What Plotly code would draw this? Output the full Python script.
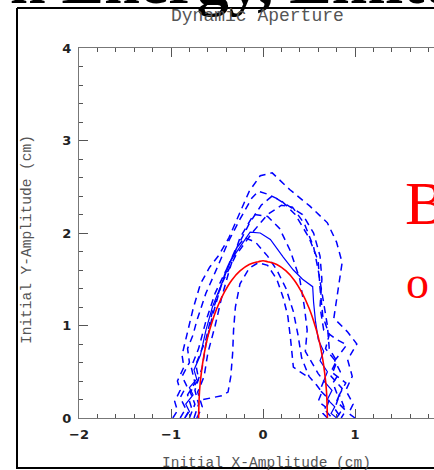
import plotly.graph_objects as go

# ---- data ----
ellipse_x = [-0.70, -0.69, -0.67, -0.64, -0.60, -0.55, -0.50, -0.42, -0.34, -0.25, -0.15, -0.05, 0.00,
             0.05, 0.15, 0.25, 0.34, 0.42, 0.50, 0.55, 0.60, 0.64, 0.67, 0.69, 0.70]
ellipse_y = [0.00, 0.29, 0.49, 0.69, 0.88, 1.05, 1.19, 1.36, 1.49, 1.59, 1.66, 1.69, 1.70,
             1.69, 1.66, 1.59, 1.49, 1.36, 1.19, 1.05, 0.88, 0.69, 0.49, 0.29, 0.00]

seed_a_x = [-0.98, -0.93, -0.96, -0.90, -0.93, -0.86, -0.88, -0.82, -0.76, -0.68, -0.58, -0.48, -0.37, -0.26,
            -0.15, -0.03, 0.10, 0.29, 0.51, 0.70, 0.80, 0.86, 0.82, 0.77, 0.92, 1.02, 0.92, 0.97, 0.90, 0.98,
            0.93, 1.00]
seed_a_y = [0.00, 0.08, 0.18, 0.30, 0.40, 0.55, 0.68, 0.92, 1.18, 1.45, 1.63, 1.76, 1.95, 2.20,
            2.45, 2.62, 2.65, 2.47, 2.29, 2.11, 1.90, 1.68, 1.40, 1.08, 0.93, 0.80, 0.63, 0.45, 0.30, 0.15,
            0.05, 0.00]

seed_b_x = [-0.90, -0.84, -0.90, -0.83, -0.88, -0.80, -0.82, -0.76, -0.72, -0.62, -0.50, -0.38, -0.25, -0.12,
            -0.05, 0.05, 0.20, 0.35, 0.50, 0.60, 0.62, 0.65, 0.72, 0.68, 0.80, 0.74, 0.86, 0.80, 0.90, 0.85]
seed_b_y = [0.00, 0.10, 0.22, 0.35, 0.45, 0.60, 0.75, 0.90, 1.05, 1.35, 1.62, 1.90, 2.15, 2.38,
            2.45, 2.42, 2.35, 2.20, 1.95, 1.70, 1.40, 1.10, 0.90, 0.75, 0.60, 0.45, 0.32, 0.18, 0.08, 0.00]

seed_c_x = [-0.85, -0.78, -0.82, -0.74, -0.78, -0.70, -0.62, -0.52, -0.40, -0.28, -0.15, -0.02, 0.10, 0.26,
            0.43, 0.55, 0.62, 0.64, 0.62, 0.66, 0.80, 0.91, 0.78, 0.84, 0.76, 0.82, 0.78, 0.85]
seed_c_y = [0.00, 0.12, 0.25, 0.38, 0.55, 0.75, 1.05, 1.35, 1.60, 1.85, 2.10, 2.30, 2.40, 2.30,
            2.20, 2.00, 1.75, 1.50, 1.20, 0.95, 0.85, 0.79, 0.62, 0.50, 0.38, 0.22, 0.10, 0.00]

seed_d_x = [-0.80, -0.74, -0.79, -0.70, -0.73, -0.62, -0.55, -0.45, -0.30, -0.12, 0.05, 0.20, 0.32, 0.45,
            0.55, 0.60, 0.65, 0.70, 0.72, 0.80, 0.74, 0.90, 0.83, 0.88, 0.80]
seed_d_y = [0.00, 0.15, 0.28, 0.42, 0.58, 0.85, 1.15, 1.45, 1.75, 2.00, 2.20, 2.30, 2.28, 2.10,
            1.85, 1.60, 1.30, 1.00, 0.75, 0.62, 0.50, 0.38, 0.25, 0.12, 0.00]

seed_e_x = [-0.72, -0.66, -0.71, -0.64, -0.60, -0.52, -0.45, -0.36, -0.25, -0.10, 0.05, 0.18, 0.30, 0.40,
            0.45, 0.48, 0.46, 0.55, 0.60, 0.66, 0.62, 0.72, 0.68, 0.75]
seed_e_y = [0.00, 0.12, 0.28, 0.45, 0.70, 1.00, 1.30, 1.62, 1.95, 2.20, 2.18, 2.05, 1.80, 1.50,
            1.20, 0.95, 0.72, 0.57, 0.48, 0.40, 0.30, 0.20, 0.08, 0.00]

seed_f_x = [-0.85, -0.80, -0.84, -0.76, -0.80, -0.72, -0.75, -0.68, -0.62, -0.55, -0.45, -0.35, -0.25, -0.14,
            -0.03, 0.08, 0.22, 0.33, 0.43, 0.54, 0.55, 0.57, 0.60, 0.66, 0.62, 0.70, 0.66, 0.75, 0.70, 0.78,
            0.74, 0.80]
seed_f_y = [0.00, 0.07, 0.15, 0.25, 0.33, 0.42, 0.52, 0.68, 0.95, 1.20, 1.45, 1.70, 1.85, 2.01,
            2.00, 1.93, 1.74, 1.60, 1.50, 1.42, 1.25, 1.05, 0.85, 0.72, 0.62, 0.50, 0.40, 0.30, 0.20, 0.12,
            0.05, 0.00]

seed_g_x = [-0.75, -0.70, -0.74, -0.66, -0.62, -0.55, -0.48, -0.40, -0.30, -0.20, -0.08, 0.05, 0.15, 0.25,
            0.33, 0.38, 0.42, 0.50, 0.58, 0.64, 0.60, 0.68, 0.65, 0.70]
seed_g_y = [0.00, 0.15, 0.30, 0.55, 0.80, 1.10, 1.35, 1.60, 1.82, 1.95, 1.90, 1.75, 1.60, 1.40,
            1.15, 0.90, 0.65, 0.45, 0.36, 0.28, 0.18, 0.12, 0.05, 0.00]

seed_h_x = [-0.65, -0.55, -0.45, -0.38, -0.35, -0.33, -0.32, -0.30, -0.25, -0.15, -0.05, 0.05, 0.15, 0.22,
            0.27, 0.30, 0.32, 0.33, 0.40, 0.48]
seed_h_y = [0.20, 0.22, 0.24, 0.28, 0.45, 0.70, 0.95, 1.20, 1.45, 1.62, 1.68, 1.65, 1.50, 1.30,
            1.10, 0.85, 0.65, 0.55, 0.50, 0.45]

dashed_seeds = [(seed_a_x, seed_a_y), (seed_b_x, seed_b_y), (seed_c_x, seed_c_y), (seed_d_x, seed_d_y),
                (seed_e_x, seed_e_y), (seed_g_x, seed_g_y), (seed_h_x, seed_h_y)]
solid_seeds = [(seed_f_x, seed_f_y)]

x_ticks = [-2, -1, 0, 1]
y_ticks = [0, 1, 2, 3, 4]

# ---- figure ----
W, H = 434, 470
L, R, T, B = 79, 0, 48, 52
plot_w = W - L - R
plot_h = H - T - B
x_min = -2.0
x_per_px = 1 / 92.0
x_max = x_min + plot_w * x_per_px


def px(xp):
    return (xp - L) / plot_w


def py(yp):
    return (H - B - yp) / plot_h


fig = go.Figure()
for sx, sy in dashed_seeds:
    fig.add_trace(go.Scatter(x=sx, y=sy, mode="lines",
                             line=dict(color="#0000ff", width=1.5, dash="7px,5px"),
                             hoverinfo="skip", showlegend=False))
for sx, sy in solid_seeds:
    fig.add_trace(go.Scatter(x=sx, y=sy, mode="lines",
                             line=dict(color="#0000ff", width=1.2),
                             hoverinfo="skip", showlegend=False))
fig.add_trace(go.Scatter(x=ellipse_x, y=ellipse_y, mode="lines", line_shape="spline",
                         line=dict(color="#ff0000", width=1.6),
                         hoverinfo="skip", showlegend=False))

axis_common = dict(
    showgrid=False, zeroline=False, showline=True, linecolor="#777", linewidth=1,
    ticks="inside", tickcolor="#555", tickwidth=1, ticklen=9,
    tickfont=dict(family="DejaVu Sans", size=13, color="#222", weight="bold"),
)

fig.update_xaxes(range=[x_min, x_max], tickvals=x_ticks, mirror="allticks",
                 minor=dict(dtick=0.2, ticks="inside", ticklen=4, tickcolor="#555", tickwidth=1),
                 ticklabelstandoff=4, **axis_common)
fig.update_yaxes(range=[0, 4], tickvals=y_ticks,
                 minor=dict(dtick=0.2, ticks="inside", ticklen=4, tickcolor="#555", tickwidth=1),
                 ticklabelstandoff=4, **axis_common)

frame = dict(color="black", width=2)
shapes = [
    dict(type="line", xref="paper", yref="paper", x0=px(17), x1=px(17), y0=py(8), y1=py(469), line=frame),
    dict(type="line", xref="paper", yref="paper", x0=px(17), x1=px(440), y0=py(8), y1=py(8), line=frame),
    dict(type="line", xref="paper", yref="paper", x0=px(17), x1=px(440), y0=py(468), y1=py(468), line=frame),
]

annotations = [
    dict(text="<b>n Energy, Emitt</b>", xref="paper", yref="paper", x=px(8), y=py(-19),
         xanchor="left", yanchor="middle", showarrow=False,
         font=dict(family="Liberation Serif", size=64, color="black")),
    dict(text="Dynamic Aperture", xref="paper", yref="paper", x=px(257), y=py(16),
         xanchor="center", yanchor="middle", showarrow=False,
         font=dict(family="Liberation Mono", size=18, color="#555")),
    dict(text="Initial X-Amplitude (cm)", xref="paper", yref="paper", x=px(266), y=py(463),
         xanchor="center", yanchor="middle", showarrow=False,
         font=dict(family="Liberation Mono", size=14.5, color="#555")),
    dict(text="Initial Y-Amplitude (cm)", xref="paper", yref="paper", x=px(27), y=py(240),
         xanchor="center", yanchor="middle", showarrow=False, textangle=-90,
         font=dict(family="Liberation Mono", size=14.5, color="#555")),
    dict(text="B", xref="paper", yref="paper", x=px(403), y=py(203),
         xanchor="left", yanchor="middle", showarrow=False,
         font=dict(family="Liberation Serif", size=62, color="#ff0000")),
    dict(text="o", xref="paper", yref="paper", x=px(404), y=py(282),
         xanchor="left", yanchor="middle", showarrow=False,
         font=dict(family="Liberation Serif", size=46, color="#ff0000")),
]

fig.update_layout(
    width=W, height=H, margin=dict(l=L, r=R, t=T, b=B, pad=0),
    paper_bgcolor="white", plot_bgcolor="white",
    shapes=shapes, annotations=annotations, showlegend=False,
)

fig.write_html("out.html", include_plotlyjs=True, config={"displayModeBar": False})
